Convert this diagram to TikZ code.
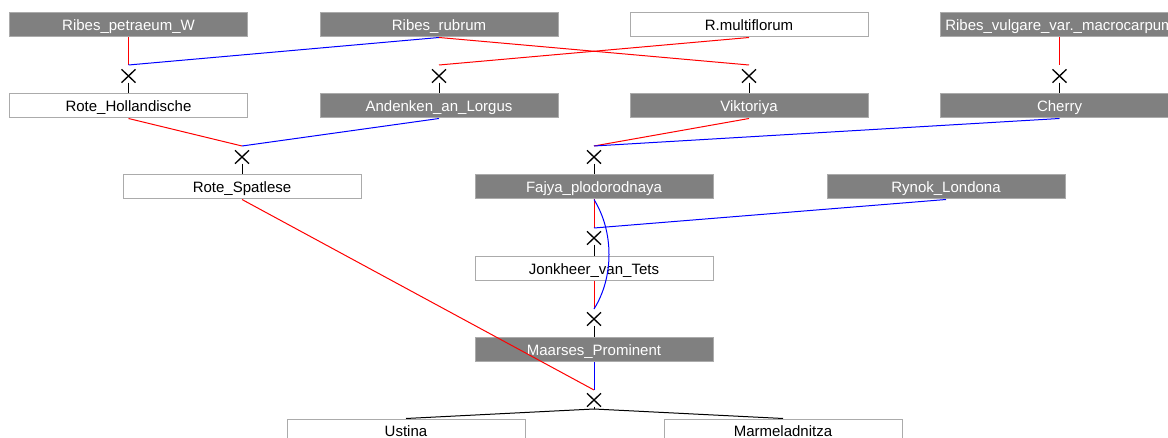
\documentclass[tikz,border=0pt]{standalone}
\usepackage{fontspec}
\setmainfont{Liberation Sans}
\usetikzlibrary{shapes.misc}
\definecolor{boxgray}{HTML}{808080}
\definecolor{boxline}{HTML}{ABABAB}
\begin{document}
\begin{tikzpicture}[x=0.75pt,y=-0.75pt,
  box/.style={draw=boxline, line width=0.75pt, minimum width=178.5pt, minimum height=18pt,
    inner sep=0pt, font=\fontsize{11.25}{13}\selectfont, text height=9.4pt, text depth=1.0pt},
  gbox/.style={box, fill=boxgray, text=white},
  wbox/.style={box, fill=white, text=black},
  crossmark/.style={cross out, draw=black, line width=1pt, minimum width=9.5pt, minimum height=9pt, inner sep=0pt},
  mline/.style={red, line width=0.75pt},
  fline/.style={blue, line width=0.75pt},
  cline/.style={black, line width=0.75pt}]
\useasboundingbox (0,0) rectangle (1168,438);
\clip (0,0) rectangle (1168,438);
% row 1
\node[gbox] (petraeum) at (128.5,25) {Ribes\_petraeum\_W};
\node[gbox] (rubrum) at (439,25) {Ribes\_rubrum};
\node[wbox] (multi) at (749,25) {R.multiflorum};
\node[gbox] (vulgare) at (1059.5,25) {Ribes\_vulgare\_var.\_macrocarpum};
% row 2
\node[wbox] (rote) at (128.5,106) {Rote\_Hollandische};
\node[gbox] (andenken) at (439,106) {Andenken\_an\_Lorgus};
\node[gbox] (vikt) at (749,106) {Viktoriya};
\node[gbox] (cherry) at (1059.5,106) {Cherry};
% row 3
\node[wbox] (spat) at (242,187) {Rote\_Spatlese};
\node[gbox] (fajya) at (594,187) {Fajya\_plodorodnaya};
\node[gbox] (rynok) at (946,187) {Rynok\_Londona};
% row 4
\node[wbox] (jonk) at (594,269) {Jonkheer\_van\_Tets};
% row 5
\node[gbox] (maarses) at (594,349.5) {Maarses\_Prominent};
% row 6
\node[wbox] (ustina) at (406,431) {Ustina};
\node[wbox] (marm) at (783,431) {Marmeladnitza};

% crosses
\node[crossmark] (x1) at (128.5,76) {};
\node[crossmark] (x2) at (439,76) {};
\node[crossmark] (x3) at (749,76) {};
\node[crossmark] (x4) at (1059.5,76) {};
\node[crossmark] (x5) at (242,157) {};
\node[crossmark] (x6) at (594,157) {};
\node[crossmark] (x7) at (594,238) {};
\node[crossmark] (x8) at (594,319) {};
\node[crossmark] (x9) at (594,400) {};
\coordinate (j1) at (128.5,65);
\coordinate (j2) at (439,65);
\coordinate (j3) at (749,65);
\coordinate (j4) at (1059.5,65);
\coordinate (j5) at (242,146);
\coordinate (j6) at (594,146);
\coordinate (j7) at (594,228);
\coordinate (j8) at (594,309);
\coordinate (j9) at (594,390);
\coordinate (b9) at (594,409);

% parent lines
\draw[mline] (petraeum.south) -- (j1);
\draw[fline] (rubrum.south) -- (j1);
\draw[mline] (multi.south) -- (j2);
\draw[mline] (rubrum.south) -- (j3);
\draw[mline] (vulgare.south) -- (j4);
\draw[mline] (rote.south) -- (j5);
\draw[fline] (andenken.south) -- (j5);
\draw[mline] (vikt.south) -- (j6);
\draw[fline] (cherry.south) -- (j6);
\draw[mline] (fajya.south) -- (j7);
\draw[fline] (rynok.south) -- (j7);
\draw[mline] (jonk.south) -- (j8);
\draw[fline] (fajya.south) .. controls (614,232) and (614,277) .. (j8);
\draw[mline] (spat.south) -- (j9);
\draw[fline] (maarses.south) -- (j9);

% child lines
\draw[cline] (x1.south) -- (rote.north);
\draw[cline] (x2.south) -- (andenken.north);
\draw[cline] (x3.south) -- (vikt.north);
\draw[cline] (x4.south) -- (cherry.north);
\draw[cline] (x5.south) -- (spat.north);
\draw[cline] (x6.south) -- (fajya.north);
\draw[cline] (x7.south) -- (jonk.north);
\draw[cline] (x8.south) -- (maarses.north);
\draw[cline] (x9.south) -- (b9);
\draw[cline] (b9) -- (ustina.north);
\draw[cline] (b9) -- (marm.north);
\end{tikzpicture}
\end{document}
